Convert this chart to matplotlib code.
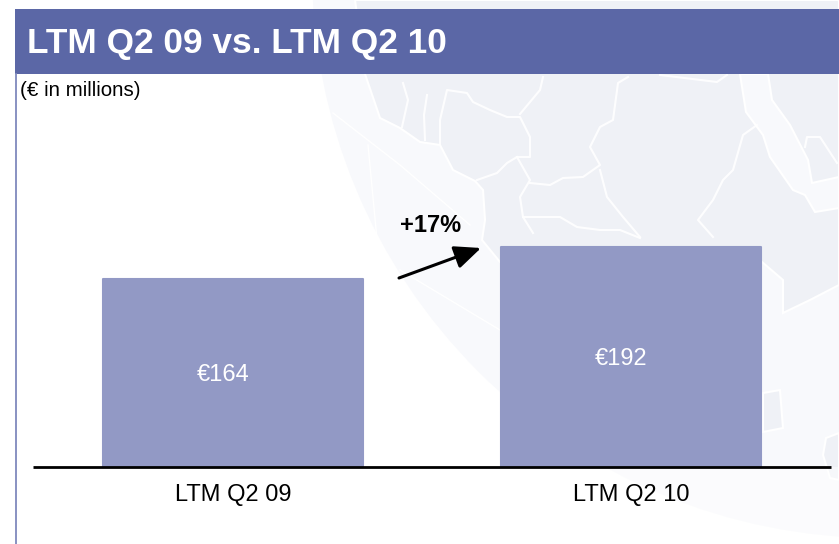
### bar chart of LTM Q2 09 vs LTM Q2 10 on a slide background
import numpy as np
import matplotlib.pyplot as plt
from matplotlib.patches import Circle, Rectangle

periods = ['LTM Q2 09', 'LTM Q2 10']
revenue = [164, 192]
bar_labels = ['€164', '€192']
growth_label = '+17%'
title_text = 'LTM Q2 09 vs. LTM Q2 10'
unit_text = '(€ in millions)'

plt.rcParams['font.family'] = ['Liberation Sans', 'DejaVu Sans']

W, H = 839, 544
OCEAN = '#f8f9fc'
LAND = '#eff1f6'
fig = plt.figure(figsize=(W/100, H/100), dpi=100, facecolor='white')

# background layer in pixel coords, y going down
bg = fig.add_axes([0, 0, 1, 1], zorder=0)
bg.set_xlim(0, W)
bg.set_ylim(H, 0)
bg.axis('off')

globe = Circle((880, -30), 568, fc=OCEAN, ec='none', zorder=1)
bg.add_patch(globe)

# map shapes on the globe, traced roughly
land = [(355, 0), (365, 74), (380, 118), (400, 128), (420, 142), (440, 145), (453, 170), (475, 181),
        (483, 190), (485, 220), (482, 240), (500, 262), (762, 262), (783, 280), (783, 313), (810, 300),
        (839, 285), (839, 0)]
channel = [(740, 74), (768, 74), (772, 100), (790, 125), (808, 160), (812, 183), (839, 177), (839, 208),
           (815, 212), (805, 195), (793, 190), (770, 157), (763, 135), (746, 112)]
island_a = [(763, 393), (780, 390), (783, 428), (763, 432)]
island_b = [(839, 433), (826, 438), (823, 455), (830, 478), (839, 480)]
for shape, col in [(land, LAND), (channel, OCEAN), (island_a, LAND), (island_b, LAND)]:
    xs, ys = zip(*shape)
    bg.fill(xs, ys, fc=col, ec='white', lw=1.5, zorder=2)

borders = [
    [(403, 83), (408, 100), (402, 127)],
    [(427, 95), (424, 115), (425, 140)],
    [(440, 145), (440, 120), (447, 90), (467, 93), (473, 102), (490, 110), (507, 117), (520, 117), (530, 137),
     (530, 157), (517, 157), (507, 163), (497, 173), (477, 180)],
    [(543, 77), (540, 90), (520, 114)],
    [(517, 157), (530, 180), (520, 197), (523, 217), (533, 233)],
    [(530, 183), (550, 185), (563, 178), (583, 177), (600, 165), (590, 147), (600, 127), (613, 120), (618, 83),
     (628, 77)],
    [(523, 217), (560, 217), (577, 227), (600, 230), (620, 230), (640, 238)],
    [(600, 170), (607, 197), (623, 217), (640, 237)],
    [(757, 125), (743, 135), (733, 170), (723, 180), (713, 200), (698, 220), (713, 237)],
    [(660, 75), (717, 82), (727, 75)],
    [(805, 147), (807, 137), (820, 137), (837, 163)],
]
for b in borders:
    xs, ys = zip(*b)
    bg.plot(xs, ys, color='white', lw=1.5, alpha=0.9, zorder=3)

# faint grid on the globe
for grid in [[(333, 113), (400, 165), (470, 225)], [(368, 145), (378, 250)], [(400, 270), (500, 330)]]:
    xs, ys = zip(*grid)
    bg.plot(xs, ys, color='white', lw=1, zorder=3)

# globe fades out below the baseline
bg.add_patch(Rectangle((0, 467), W, H-467, fc='white', alpha=0.45, ec='none', zorder=3))

# slide header and left rule
bg.add_patch(Rectangle((15, 9), W-15, 65, fc='#5b67a6', ec='none', zorder=4))
bg.plot([15.5, 15.5], [74, H], color='#7f89bd', lw=1.3, zorder=4)
bg.text(27, 43, title_text, color='white', fontsize=25.4, fontweight='bold', va='center', ha='left', zorder=5)
bg.text(20, 90, unit_text, color='black', fontsize=14.8, va='center', ha='left', zorder=5)

# chart axes, spine is the baseline
ax = fig.add_axes([33/W, (H-467)/H, 798/W, 344/H], zorder=1)
ax.patch.set_alpha(0)
x = np.arange(len(periods))
bars = ax.bar(x, revenue, width=260/398, color='#9299c5', edgecolor='#9299c5', linewidth=1.5)
for b in bars:
    b.set_joinstyle('round')
ax.set_xlim(-0.5025, 1.5025)
ax.set_ylim(0, 300)
ax.set_yticks([])
ax.set_xticks(x)
ax.set_xticklabels(periods, fontsize=17, color='black')
ax.tick_params(axis='x', length=0, pad=12.5)
for s in ['top', 'left', 'right']:
    ax.spines[s].set_visible(False)
ax.spines['bottom'].set_linewidth(2)
ax.spines['bottom'].set_color('black')
ax.spines['bottom'].set_capstyle('butt')

for xi, v, lab in zip(x, revenue, bar_labels):
    ax.text(xi - 0.025, v/2 - 2, lab, color='white', fontsize=17, ha='center', va='center')

# growth arrow between the bars
bg.annotate('', xy=(481, 248), xytext=(399, 278), zorder=5,
            arrowprops=dict(arrowstyle='-|>,head_length=1.6,head_width=0.7', color='black', lw=2.2,
                            shrinkA=0, shrinkB=0))
bg.text(431, 225, growth_label, color='black', fontsize=17, fontweight='bold', ha='center', va='center', zorder=5)

plt.savefig('out.png', dpi=100)
